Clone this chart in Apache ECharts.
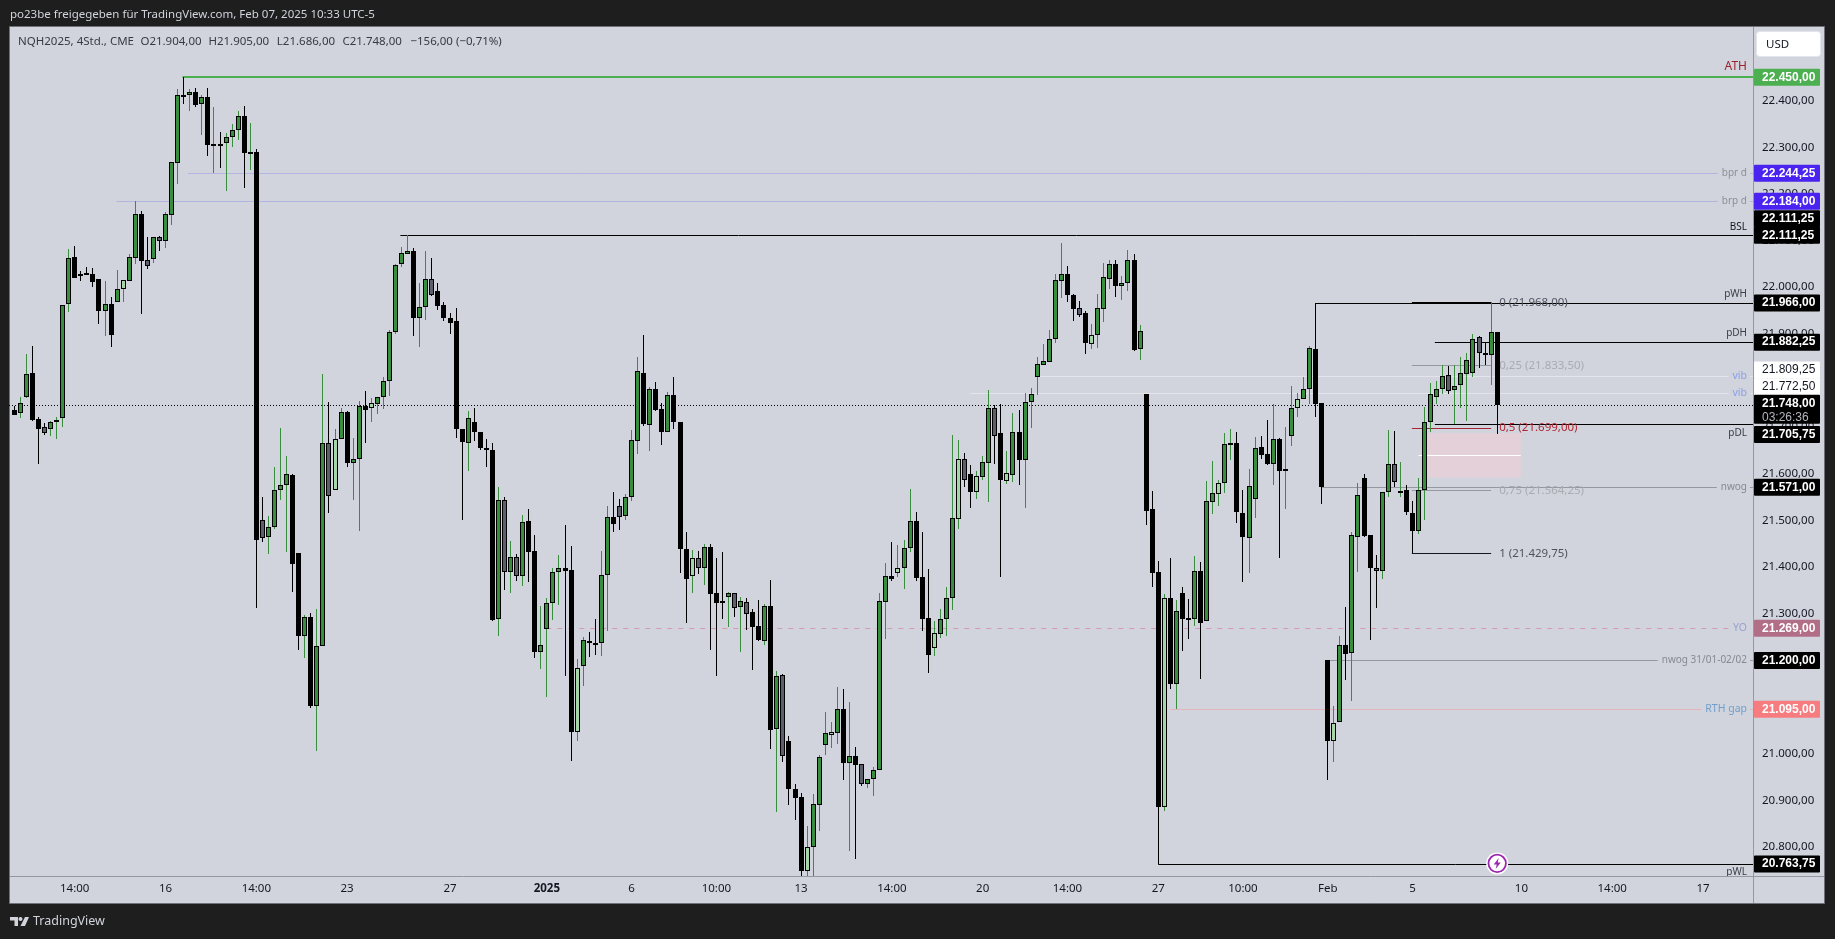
<!DOCTYPE html>
<html><head><meta charset="utf-8"><title>NQH2025</title>
<script src="https://cdn.jsdelivr.net/npm/echarts@6/dist/echarts.min.js"></script>
<style>html,body{margin:0;padding:0;background:#1e1e1e}#c{width:1835px;height:939px}</style></head>
<body><div id="c"></div><script>
const kinds=("kggkkagggg"+"kkkkkgkgpg"+"gkagagggkg"+"kgkgkgggkg"+"kaggggkkgk"+"ggapgkggkp"+"ggggggkgga"+"kkkkkgkkkk"+"gagagkkggg"+"gkkpgkkggk"+"agggkgkkgk"+"kkpagkkkga"+"gakkgkgakk"+"kpgggpgkgk"+"aggggkpggk"+"kkpgggpakp"+"ggakpgkggg"+"ggggkkakpg"+"ggkggkgkkk"+"pkgkkgkggp"+"ggkkggkkgk"+"ggpggkkkpg"+"kggkkaggag"+"kkgggggagg"+"ggaagk").split("");
const opens=[21737,21730,21765,21817,21717,21700,21695,21714,21719,21965,
22064,22028,22031,22028,22017,21950,21965,21968,21997,22014,
22063,22156,22058,22061,22107,22100,22155,22267,22413,22413,
22418,22392,22407,22305,22308,22310,22323,22336,22368,22289,
22290,21500,21464,21487,21565,21577,21597,21430,21253,21292,
21103,21230,21665,21566,21674,21732,21624,21632,21745,21742,
21750,21764,21798,21903,22049,22072,22077,21933,21957,22017,
21991,21962,21935,21927,21695,21667,21710,21689,21655,21651,
21288,21543,21390,21421,21380,21498,21434,21219,21268,21322,
21389,21397,21393,21047,21187,21242,21237,21237,21382,21508,
21532,21510,21550,21670,21817,21705,21782,21739,21690,21769,
21711,21439,21380,21419,21399,21443,21344,21327,21335,21344,
21315,21326,21304,21274,21242,21317,21052,21168,21027,20924,
20907,20749,20801,20891,21019,21041,21045,21096,20979,20996,
20977,20936,20946,20964,21326,21380,21388,21397,21440,21498,
21379,21290,21227,21257,21288,21334,21504,21631,21599,21560,
21594,21624,21742,21687,21585,21598,21689,21630,21753,21808,
21834,21840,21890,22014,22028,21983,21955,21944,21879,21898,
21954,22018,22049,22003,22008,22058,21868,21771,21524,21389,
20886,21333,21150,21344,21290,21289,21391,21284,21540,21557,
21580,21664,21665,21517,21463,21547,21657,21642,21620,21674,
21605,21680,21740,21761,21781,21867,21751,21200,21028,21067,
21232,21215,21465,21592,21468,21399,21391,21560,21622,21563,
21565,21517,21478,21565,21710,21764,21781,21811,21779,21790,
21815,21817,21893,21860,21854,21904];
const highs=[21745,21764,21857,21874,21721,21708,21714,21721,21961,22082,
22088,22035,22044,22042,22017,22013,21978,22037,22015,22071,
22185,22163,22108,22107,22110,22162,22268,22425,22450,22425,
22426,22411,22426,22386,22332,22330,22350,22378,22388,22351,
22296,21550,21510,21614,21698,21638,21599,21430,21297,21301,
21310,21814,21754,21696,21742,21735,21676,21756,21777,21763,
21764,21807,21908,22050,22087,22111.25,22083,22009,22078,22063,
22009,21968,21944,21955,21695,21735,21742,21689,21675,21667,
21572,21550,21456,21428,21512,21524,21469,21317,21333,21397,
21426,21490,21445,21203,21251,21260,21289,21435,21531,21560,
21547,21557,21694,21850,21897,21785,21796,21752,21775,21807,
21711,21475,21437,21435,21450,21450,21420,21432,21347,21344,
21335,21334,21310,21330,21321,21372,21177,21171,21038,20936,
20915,20845,20914,20997,21089,21068,21143,21139,21110,21014,
20977,20946,20971,21344,21409,21454,21447,21458,21567,21518,
21475,21396,21284,21310,21357,21683,21672,21645,21619,21606,
21638,21780,21747,21749,21649,21730,21737,21773,21784,21850,
21878,21908,22028,22095,22045,21985,21970,21949,21921,21985,
22052,22058,22058,22024,22080,22071,21919,21771,21563,21413,
21342,21419,21330,21357,21332,21424,21411,21585,21627,21586,
21687,21697,21690,21565,21610,21678,21681,21715,21749,21676,
21700,21788,21774,21808,21874,21966,21752,21200,21102,21252,
21314,21475,21580,21600,21468,21426,21560,21694,21692,21625,
21576,21542,21592,21744,21795,21800,21833,21831,21833,21850,
21858,21900,21895,21881,21968,21905];
const lows=[21725,21720,21763,21714,21620,21683,21682,21675,21701,21947,
22019,22014,22028,22001,21921,21896,21872,21968,21968,22014,
22050,21943,22039,22051,22078,22083,22133,22222,22393,22378,
22387,22326,22282,22245,22255,22207,22301,22315,22213,22251,
21313,21454,21428,21482,21544,21433,21347,21222,21206,21097,
21006,21230,21515,21566,21674,21615,21544,21478,21667,21710,
21728,21739,21767,21899,22044,22072,21896,21872,21930,21981,
21951,21928,21900,21676,21500,21606,21671,21650,21615,21285,
21253,21351,21345,21371,21360,21369,21206,21182,21122,21287,
21319,21167,20985,21028,21145,21208,21212,21210,21262,21476,
21480,21501,21542,21643,21702,21649,21735,21662,21690,21696,
21388,21281,21345,21385,21362,21222,21167,21289,21271,21294,
21219,21265,21180,21242,21233,21010,20876,20982,20889,20858,
20730,20730,20730,20834,20997,21012,21021,20944,20791,20774,
20931,20926,20909,20964,21246,21371,21379,21354,21433,21371,
21264,21174,21210,21247,21252,21308,21482,21572,21527,21547,
21587,21540,21621,21379,21578,21583,21575,21527,21698,21769,
21834,21840,21880,21977,21968,21927,21936,21857,21867,21870,
21925,21996,21979,21973,21992,21863,21844,21490,21357,20763.75,
20878,21139,21095,21220,21246,21274,21160,21284,21514,21531,
21558,21630,21495,21369,21388,21505,21632,21619,21575,21420,
21525,21660,21722,21761,21749,21722,21536,20944,20982,21067,
21157,21113,21390,21464,21244,21313,21374,21551,21572,21551,
21511,21429.75,21471,21501,21690,21750,21770,21771,21706,21742,
21714,21808,21827,21834,21790,21686];
const closes=[21725,21752,21815,21715,21697,21688,21710,21715,21961,22062,
22020,22023,22028,22011,21950,21963,21897,21997,22015,22064,
22156,22057,22046,22107,22100,22156,22268,22413,22408,22418,
22391,22408,22305,22308,22303,22323,22336,22368,22288,22289,
21459,21462,21487,21565,21577,21599,21407,21253,21292,21103,
21230,21667,21552,21674,21732,21624,21631,21745,21737,21751,
21764,21798,21903,22047,22073,22077,21935,21957,22017,21983,
21960,21935,21924,21695,21669,21719,21689,21656,21650,21287,
21543,21389,21421,21380,21496,21433,21219,21234,21322,21389,
21397,21391,21047,21183,21243,21237,21236,21382,21508,21493,
21508,21550,21672,21820,21707,21781,21737,21690,21768,21710,
21439,21375,21419,21399,21444,21342,21324,21326,21344,21313,
21327,21300,21272,21244,21316,21051,21166,20996,20925,20904,
20749,20801,20892,20992,21044,21046,21095,20981,20996,20976,
20936,20946,20964,21327,21380,21375,21397,21440,21498,21377,
21289,21212,21258,21288,21333,21505,21631,21587,21560,21595,
21625,21742,21682,21587,21601,21689,21630,21753,21772,21835,
21841,21890,22015,22028,21984,21954,21941,21880,21897,21955,
22021,22049,22003,22008,22058,21865,21907,21520,21388,20886,
21333,21150,21305,21289,21289,21391,21281,21541,21558,21580,
21663,21665,21519,21465,21573,21655,21641,21620,21674,21605,
21610,21740,21760,21781,21869,21750,21571,21027,21065,21232,
21214,21468,21554,21467,21399,21391,21560,21622,21583,21564,
21519,21478,21565,21710,21770,21781,21809,21778,21789,21817,
21845,21890,21860,21854,21904,21748];

const xTickIdx=[10,25,40,55,72,88,102,116,130,145,160,174,189,203,217,231,249,264,279];
const xTickText=["14:00","16","14:00","23","27","2025","6","10:00","13","14:00","20","14:00","27","10:00","Feb","5","10","14:00","17"];
const yTicks=[22400,22300,22200,22100,22000,21900,21800,21700,21600,21500,21400,21300,21200,21100,21000,20900,20800];

const levelValues=[22450,22244.25,22184,22111.25,21966,21882.25,21809.25,21772.5,21748,21705.75,21571,21269,21200,21095,20763.75];
const levelStarts=[27.8,28.7,16.9,63.8,215,234.7,169.4,157.9,-0.86,234.7,216,87.9,217.3,191,189];
const levelNames=["ATH","bpr d","brp d","BSL","pWH","pDH","vib","vib","","pDL","nwog","YO","nwog 31/01-02/02","RTH gap","pWL"];
const levelColors=["#4caf50","#b2b5e0","#b2b5e0","#000000","#000000","#000000","#e3e5ea","#e3e5ea","#000000","#000000","#9598a1","#d49ab0","#9598a1","#e5b3bd","#000000"];
const levelWidths=[2,1,1,1,1,1,1,1,1,1,1,1,1,1,1];
const levelDash=[null,null,null,null,null,null,null,null,[1,2],null,null,[5,6],null,null,null];
const levelTextColors=["#9c2230","#8c8f99","#8c8f99","#131722","#3a3d47","#3a3d47","#8aa0e8","#8aa0e8","","#3a3d47","#868994","#9aa3d0","#868994","#6f9fcc","#3a3d47"];
const levelTextSizes=[12,10,10,10,10,10,10.5,10.5,10,10,10,10.5,10,10.5,10];
const levelTextDy=[-10.6,0,0,-8.6,-8.6,-9.4,0,0,0,8.7,0,0,0,0,8.4];

const fibValues=[21968,21833.5,21699,21564.25,21429.75];
const fibLabels=["0 (21.968,00)","0,25 (21.833,50)","0,5 (21.699,00)","0,75 (21.564,25)","1 (21.429,75)"];
const fibLineColors=["#000000","#9598a1","#a52834","#9598a1","#131722"];
const fibTextColors=["#50535e","#a9abb3","#b22833","#a9abb3","#50535e"];
const fibStart=230.9, fibEnd=244;

const gapBox={left:233,right:248.9,top:21687,bottom:21592,mid:21639.6,midLeft:232};

const tagValues=[22450,22244.25,22184,22111.25,22111.25,21966,21882.25,21809.25,21772.5,21748,21748,21705.75,21571,21269,21200,21095,20763.75];
const tagTexts=["22.450,00","22.244,25","22.184,00","22.111,25","22.111,25","21.966,00","21.882,25","21.809,25","21.772,50","21.748,00","03:26:36","21.705,75","21.571,00","21.269,00","21.200,00","21.095,00","20.763,75"];
const tagFills=["#4caf50","#4a23f0","#4a23f0","#000000","#000000","#000000","#000000","#ffffff","#ffffff","#000000","#000000","#000000","#000000","#b26e86","#000000","#f77c80","#000000"];
const tagInks=["#fff","#fff","#fff","#fff","#fff","#fff","#fff","#131722","#131722","#fff","#b4b6be","#fff","#fff","#fff","#fff","#fff","#fff"];
const tagShift=[0,0,0,-16.6,0,0,0,-6.2,-6.6,-1.4,13,10,0,0,0,0,0];

const headerText="po23be freigegeben für TradingView.com, Feb 07, 2025 10:33 UTC-5";
const legendParts=["NQH2025, 4Std., CME","O21.904,00","H21.905,00","L21.686,00","C21.748,00","−156,00 (−0,71%)"];
const legendX=[18,140.4,208.4,276.8,342.4,410.4];

const FONT='"Noto Sans","Liberation Sans",sans-serif';
const TAGFONT='"Liberation Sans",sans-serif';
const xMin=-0.86,xMax=287.26,yMin=20737.8,yMax=22557.8;
const bodyFill={g:"#388e3c",p:"#a5d6a7",a:"#5d606b",k:"#000000"};
const wickFill={g:"#388e3c",p:"#388e3c",a:"#000000",k:"#000000"};

function renderCandle(p,api){
  const i=api.value(0),k=kinds[p.dataIndex];
  const cx=api.coord([i,api.value(1)])[0],px=Math.floor(cx);
  const yO=api.coord([i,api.value(1)])[1],yH=api.coord([i,api.value(2)])[1],yL=api.coord([i,api.value(3)])[1],yC=api.coord([i,api.value(4)])[1];
  const top=Math.round(Math.min(yO,yC)),bot=Math.round(Math.max(yO,yC)),h=Math.max(bot-top,2);
  const kids=[
    {type:'rect',shape:{x:px,y:Math.round(yH),width:1,height:Math.round(yL)-Math.round(yH)},style:{fill:wickFill[k]}},
    {type:'rect',shape:{x:px-2,y:top,width:5,height:h},style:{fill:'#000'}}];
  if(h>2&&k!=='k')kids.push({type:'rect',shape:{x:px-1,y:top+1,width:3,height:h-2},style:{fill:bodyFill[k]}});
  return {type:'group',children:kids};
}
function renderLevel(p,api){
  const n=p.dataIndex,v=api.value(1);
  const s=api.coord([api.value(0),v]),e=api.coord([xMax,v]);
  const w=levelWidths[n],y=w===2?Math.round(s[1]):Math.round(s[1])+.5;
  const kids=[{type:'line',shape:{x1:s[0],y1:y,x2:e[0],y2:y},style:{stroke:levelColors[n],lineWidth:w,lineDash:levelDash[n]||undefined}}];
  if(levelNames[n]){
    const plain=levelTextDy[n]===0;
    kids.push({type:'text',z2:5,style:{text:levelNames[n],x:e[0]-(plain?3:6),y:s[1]+levelTextDy[n],align:'right',verticalAlign:'middle',
      fill:levelTextColors[n],font:levelTextSizes[n]+'px '+FONT,
      backgroundColor:plain?'#d1d4dc':undefined,padding:plain?[0,3,0,4]:0}});
  }
  return {type:'group',children:kids};
}
function renderFib(p,api){
  const n=p.dataIndex,v=api.value(1);
  const s=api.coord([fibStart,v]),e=api.coord([fibEnd,v]),y=Math.round(s[1])+.5;
  return {type:'group',children:[
    {type:'line',shape:{x1:s[0],y1:y,x2:e[0],y2:y},style:{stroke:fibLineColors[n],lineWidth:1}},
    {type:'text',style:{text:fibLabels[n],x:e[0]+8,y:s[1]+.5,align:'left',verticalAlign:'middle',fill:fibTextColors[n],font:'11.5px '+FONT}}]};
}
function renderBox(p,api){
  const a=api.coord([gapBox.left,gapBox.top]),b=api.coord([gapBox.right,gapBox.bottom]);
  const m=api.coord([gapBox.midLeft,gapBox.mid]);
  return {type:'group',children:[
    {type:'rect',shape:{x:a[0],y:a[1],width:b[0]-a[0],height:b[1]-a[1]},style:{fill:'#e4d0d8'}},
    {type:'line',shape:{x1:m[0],y1:Math.round(m[1])+.5,x2:b[0],y2:Math.round(m[1])+.5},style:{stroke:'#ffffff',lineWidth:1}}]};
}
function renderTag(p,api){
  const n=p.dataIndex,c=api.coord([xMax,api.value(1)]);
  const y=c[1]+tagShift[n];
  const cnt=tagTexts[n].indexOf(':')>=0;
  return {type:'group',children:[
    {type:'rect',shape:{x:c[0]+1,y:y-8.5-(cnt?1.5:0),width:66,height:cnt?16:17,r:1},style:{fill:tagFills[n]}},
    {type:'text',style:{text:tagTexts[n],x:c[0]+9,y:y,align:'left',verticalAlign:'middle',fill:tagInks[n],
      font:(cnt||tagFills[n]==='#ffffff'?'':'bold ')+'12px '+TAGFONT}}]};
}
function renderFlash(p,api){
  const c=api.coord([api.value(0),api.value(1)]);
  const x=c[0],y=c[1]-.5;
  return {type:'group',children:[
    {type:'circle',shape:{cx:x,cy:y,r:11},style:{fill:'#fff'}},
    {type:'circle',shape:{cx:x,cy:y,r:8.7},style:{fill:'#fff',stroke:'#9c27b0',lineWidth:1.8}},
    {type:'polygon',shape:{points:[[x+1.5,y-5.5],[x-3.5,y+1],[x-.5,y+1],[x-1.5,y+5.5],[x+3.5,y-1],[x+.5,y-1]]},style:{fill:'#9c27b0'}}]};
}
const bg=[
 {type:'rect',z:-10,shape:{x:9.5,y:26.5,width:1815,height:877},style:{fill:'#d1d4dc',stroke:'#6f7178',lineWidth:1}},
 {type:'line',z:-9,shape:{x1:1753.5,y1:27,x2:1753.5,y2:903},style:{stroke:'#9598a1',lineWidth:1}},
 {type:'line',z:-9,shape:{x1:10,y1:876.5,x2:1824,y2:876.5},style:{stroke:'#9598a1',lineWidth:1}},
 {type:'rect',z:-8,shape:{x:1756.5,y:31.5,width:64,height:25,r:3},style:{fill:'#ffffff',stroke:'#e3e5ea',lineWidth:1}},
 {type:'text',z:20,style:{text:'USD',x:1766,y:44.5,align:'left',verticalAlign:'middle',fill:'#131722',font:'11.5px '+FONT}},
 {type:'text',z:20,style:{text:headerText,x:10,y:15,align:'left',verticalAlign:'middle',fill:'#d1d4dc',font:'11.5px '+FONT}},
 {type:'text',z:20,style:{text:'TradingView',x:33,y:921.5,align:'left',verticalAlign:'middle',fill:'#d1d4dc',font:'12.5px '+FONT}},
 {type:'polygon',z:20,shape:{points:[[10,917],[18,917],[18,926],[14.5,926],[14.5,920.5],[10,920.5]]},style:{fill:'#d1d4dc'}},
 {type:'circle',z:20,shape:{cx:20.5,cy:919,r:2},style:{fill:'#d1d4dc'}},
 {type:'polygon',z:20,shape:{points:[[25,917],[29,917],[25,926],[20.5,926]]},style:{fill:'#d1d4dc'}}
].concat(legendParts.map((t,i)=>({type:'text',z:20,style:{text:t,x:legendX[i],y:41.5,align:'left',verticalAlign:'middle',fill:'#363a45',font:'11.5px '+FONT}})));

const chart=echarts.init(document.getElementById('c'),null,{renderer:'canvas',width:1835,height:939});
chart.setOption({
  animation:false,backgroundColor:'#1e1e1e',
  graphic:{elements:bg},
  grid:{left:9,top:27,width:1744,height:849,containLabel:false},
  xAxis:{type:'value',min:xMin,max:xMax,splitLine:{show:false},axisLine:{show:false},axisTick:{show:false},
    axisLabel:{customValues:xTickIdx,margin:7,color:'#131722',fontSize:11.5,fontFamily:FONT,
      formatter:v=>{const t=xTickText[xTickIdx.indexOf(v)];return t==='2025'?'{b|2025}':t;},
      rich:{b:{fontWeight:'bold',fontSize:11.5,fontFamily:FONT,color:'#131722'}}}},
  yAxis:{type:'value',position:'right',min:yMin,max:yMax,splitLine:{show:false},axisLine:{show:false},axisTick:{show:false},
    axisLabel:{customValues:yTicks,margin:9,color:'#131722',fontSize:11.5,fontFamily:FONT,
      formatter:v=>(Math.floor(v/1000)+'.'+String(v%1000).padStart(3,'0')+',00')}},
  series:[
   {type:'custom',name:'gap',z:3,silent:true,clip:true,renderItem:renderBox,data:[[gapBox.left,gapBox.top]],encode:{x:0,y:1}},
   {type:'custom',name:'levels',z:4,silent:true,clip:true,renderItem:renderLevel,data:levelValues.map((v,i)=>[levelStarts[i],v]),encode:{x:0,y:1}},
   {type:'custom',name:'fib',z:4,silent:true,renderItem:renderFib,data:fibValues.map(v=>[fibStart,v]),encode:{x:0,y:1}},
   {type:'custom',name:'NQH2025',z:6,silent:true,clip:true,renderItem:renderCandle,data:opens.map((o,i)=>[i,o,highs[i],lows[i],closes[i]]),encode:{x:0,y:[1,2,3,4]}},
   {type:'custom',name:'flash',z:7,silent:true,renderItem:renderFlash,data:[[245,20763.75]],encode:{x:0,y:1}},
   {type:'custom',name:'tags',z:10,silent:true,clip:false,renderItem:renderTag,data:tagValues.map(v=>[xMax,v]),encode:{x:0,y:1}}
  ]
});
</script></body></html>
